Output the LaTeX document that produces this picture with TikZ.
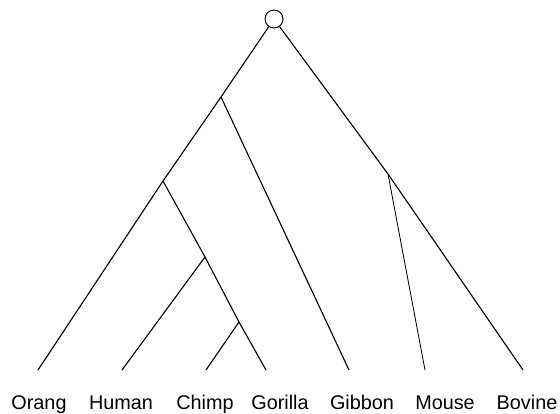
\documentclass[tikz,border=0pt]{standalone}
\usepackage{fontspec}
\setmainfont{Liberation Sans}
\usetikzlibrary{positioning}

\begin{document}
\begin{tikzpicture}[line width=0.8pt,
    taxon/.style={anchor=base, inner sep=0pt, font=\fontsize{14.1}{16}\selectfont},
    rootnode/.style={draw, circle, minimum size=0.45cm, inner sep=0pt, line width=0.7pt}]
        \useasboundingbox (0,0) rectangle (14,10.325);

        % root
        \node[rootnode] (root) at (6.85,9.85) {};

        % inner splits
        \coordinate (gib)  at (5.525,7.9);
        \coordinate (gor)  at (4.075,5.8);
        \coordinate (hum)  at (5.125,3.9);
        \coordinate (chi)  at (5.975,2.275);
        \coordinate (mou)  at (9.7,5.975);

        % leaf ends
        \coordinate (orangend)   at (0.95,1.075);
        \coordinate (humanend)   at (3.05,1.075);
        \coordinate (chimpend)   at (5.15,1.075);
        \coordinate (gorillaend) at (6.65,1.075);
        \coordinate (gibbonend)  at (8.725,1.075);
        \coordinate (mouseend)   at (10.625,1.075);
        \coordinate (bovineend)  at (13.075,1.075);

        % branches
        \draw (root) -- (gib) -- (gor) -- (orangend);
        \draw (gib) -- (gibbonend);
        \draw (gor) -- (hum) -- (chi) -- (gorillaend);
        \draw (hum) -- (humanend);
        \draw (chi) -- (chimpend);
        \draw (root) -- (mou) -- (bovineend);
        \draw[line width=0.6pt] (mou) -- (mouseend);

        % labels
        \node[taxon] (orang)   at (0.975,0.1)  {Orang};
        \node[taxon] (human)   at (3.025,0.1)  {Human};
        \node[taxon] (chimp)   at (5.125,0.1)  {Chimp};
        \node[taxon] (gorilla) at (7.0,0.1)    {Gorilla};
        \node[taxon] (gibbon)  at (9.05,0.1)   {Gibbon};
        \node[taxon] (mouse)   at (11.125,0.1) {Mouse};
        \node[taxon] (bovine)  at (13.175,0.1) {Bovine};
    \end{tikzpicture}
\end{document}
